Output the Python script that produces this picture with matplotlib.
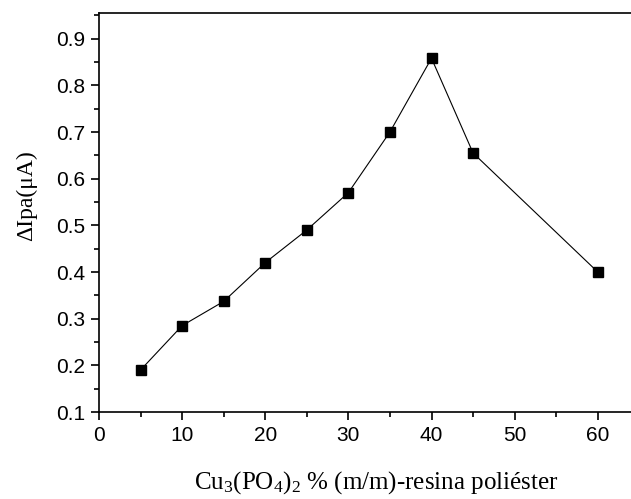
import matplotlib
matplotlib.use('Agg')

import matplotlib.pyplot as plt
from matplotlib.ticker import MultipleLocator

plt.rcParams['mathtext.fontset'] = 'custom'
plt.rcParams['mathtext.rm'] = 'Liberation Serif'
plt.rcParams['mathtext.it'] = 'Liberation Serif:italic'

# data
conc = [5, 10, 15, 20, 25, 30, 35, 40, 45, 60]
dipa = [0.19, 0.285, 0.337, 0.42, 0.49, 0.57, 0.70, 0.858, 0.655, 0.40]

fig = plt.figure(figsize=(6.31, 4.99), dpi=100)
# axes box in pixels: left 99, right 631, top 13, bottom 412
ax = fig.add_axes([99 / 631, 1 - 412 / 499, (631 - 99) / 631, (412 - 13) / 499])

ax.plot(conc, dipa, "-", color="black", linewidth=0.8,
        marker="s", markersize=6.5, markerfacecolor="black", markeredgecolor="black")

ax.set_xlim(0, 64.0)
ax.set_ylim(0.1, 0.955)
ax.xaxis.set_major_locator(MultipleLocator(10))
ax.xaxis.set_minor_locator(MultipleLocator(5))
ax.yaxis.set_major_locator(MultipleLocator(0.1))
ax.yaxis.set_minor_locator(MultipleLocator(0.05))
ax.yaxis.set_major_formatter(plt.FuncFormatter(lambda v, p: f"{v:.1f}"))

for s in ["left", "bottom", "top"]:
    ax.spines[s].set_linewidth(1.2)
ax.spines["right"].set_visible(False)

ax.tick_params(which="major", direction="out", length=6, width=1.2,
               labelsize=15, pad=4)
ax.tick_params(which="minor", direction="out", length=3.5, width=1.2)
ax.tick_params(top=False, right=False)
for lab in ax.get_xticklabels() + ax.get_yticklabels():
    lab.set_family("Liberation Sans")

ax.set_ylabel("ΔIpa(μA)", fontsize=17, family="Liberation Serif")
ax.yaxis.set_label_coords(-(99 - 37) / (631 - 99), (412 - 196) / (412 - 13))
ax.set_xlabel(r"Cu$_{3}$(PO$_{4}$)$_{2}$ $\mathit{\%}$ (m/m)-resina poliéster",
              fontsize=18, family="Liberation Serif")
ax.xaxis.set_label_coords((376 - 99) / (631 - 99), -(469 - 412) / (412 - 13))
ax.xaxis.label.set_va("top")

fig.savefig("out.png", dpi=100)
